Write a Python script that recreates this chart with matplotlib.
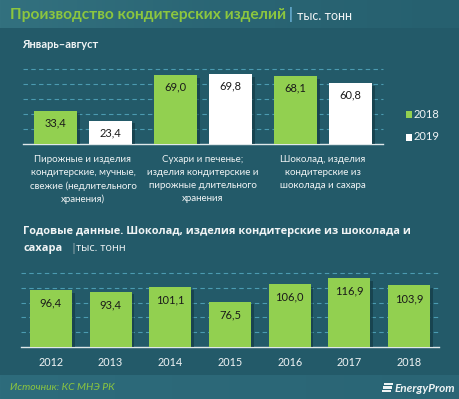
import matplotlib
matplotlib.use("Agg")
import matplotlib.pyplot as plt
import matplotlib.patheffects as pe
from matplotlib.patches import Rectangle
from matplotlib.colors import LinearSegmentedColormap
import numpy as np

plt.rcParams['font.family'] = ['Lato', 'DejaVu Sans']

# ---- data ----
categories = ["Пирожные и изделия\nкондитерские, мучные,\nсвежие (недлительного\nхранения)",
              "Сухари и печенье;\nизделия кондитерские и\nпирожные длительного\nхранения",
              "Шоколад, изделия\nкондитерские из\nшоколада и сахара"]
series_names = ["2018", "2019"]
values_2018 = [33.4, 69.0, 68.1]
values_2019 = [23.4, 69.8, 60.8]

years = ["2012", "2013", "2014", "2015", "2016", "2017", "2018"]
annual_values = [96.4, 93.4, 101.1, 76.5, 106.0, 116.9, 103.9]

title_main = "Производство кондитерских изделий"
unit = "тыс. тонн"
subtitle_top = "Январь–август"
subtitle_bottom_1 = "Годовые данные. Шоколад, изделия кондитерские из шоколада и"
subtitle_bottom_2 = "сахара"
source = "Источник: КС МНЭ РК"

# ---- style ----
W, H = 459, 399
BG = "#235a69"
GREEN = "#92d050"
WHITE = "#ffffff"
GRID = "#4b9bb1"
TEXT = "#f0f4f5"

fig = plt.figure(figsize=(W / 100, H / 100), dpi=100)
fig.patch.set_facecolor(BG)

def frac_rect(x0, y0, x1, y1):
    return [x0 / W, 1 - y1 / H, (x1 - x0) / W, (y1 - y0) / H]

def px(x, y):
    return x / W, 1 - y / H

grad = np.linspace(0, 1, 256).reshape(1, -1)
hdr = fig.add_axes(frac_rect(0, 0, W, 28))
cm_h = LinearSegmentedColormap.from_list("h", ["#33717f", "#2a6574", "#26606f"])
hdr.imshow(grad, aspect="auto", cmap=cm_h, extent=[0, 1, 0, 1])
hdr.set_axis_off()

ftr = fig.add_axes(frac_rect(0, 375, W, H))
cm_f = LinearSegmentedColormap.from_list("f", ["#2e6c7c", "#2c6878", "#2a6575"])
ftr.imshow(grad, aspect="auto", cmap=cm_f, extent=[0, 1, 0, 1])
ftr.set_axis_off()

# header texts
t = fig.text(*px(10, 15), title_main, color="#8cc63f", fontsize=11.2,
             fontweight="bold", va="center", ha="left",
             family=["Liberation Sans Narrow", "Lato", "DejaVu Sans"])
fig.canvas.draw()
bb = t.get_window_extent()
t2 = fig.text((bb.x1 + 3) / W, 1 - 15 / H, "|", color="#6fb7e0", fontsize=10.5,
              fontweight="bold", va="center", ha="left")
fig.canvas.draw()
bb2 = t2.get_window_extent()
fig.text((bb2.x1 + 4) / W, 1 - 15.5 / H, unit, color=TEXT, fontsize=9,
         va="center", ha="left")

fig.text(*px(22, 44), subtitle_top, color=TEXT, fontsize=8, fontweight="bold",
         va="center", ha="left")

shadow = [pe.SimplePatchShadow(offset=(2, -2), shadow_rgbFace="#113640", alpha=0.6), pe.Normal()]

# ---- top chart ----
ax1 = fig.add_axes(frac_rect(23, 69, 383, 144))
ax1.set_facecolor("none")
x = np.arange(len(categories))
bw = 43 / 120
off = 27.5 / 120
b1 = ax1.bar(x - off, values_2018, bw, color=GREEN, label=series_names[0], zorder=3)
b2 = ax1.bar(x + off, values_2019, bw, color=WHITE, label=series_names[1], zorder=3)
for bars in (b1, b2):
    for r in bars:
        r.set_path_effects(shadow)
ax1.set_xlim(-0.5, 2.5)
ax1.set_ylim(0, 75)
for yv in [15, 30, 45, 60, 75]:
    ax1.axhline(yv, color=GRID, lw=0.8, ls=(0, (4, 3)), zorder=1, clip_on=False)
for s in ["top", "right", "left"]:
    ax1.spines[s].set_visible(False)
ax1.spines["bottom"].set_color("#dfe8ea")
ax1.spines["bottom"].set_linewidth(1)
ax1.set_yticks([])
ax1.set_xticks(x)
ax1.set_xticklabels(categories, color=TEXT, fontsize=7.0, linespacing=1.55)
ax1.tick_params(axis="x", length=0, pad=8)
for bars, vals in ((b1, values_2018), (b2, values_2019)):
    for r, v in zip(bars, vals):
        ax1.annotate(f"{v:.1f}".replace(".", ","),
                     (r.get_x() + r.get_width() / 2, v),
                     xytext=(0, -12), textcoords="offset pixels",
                     ha="center", va="center", fontsize=8, color="#1a1a1a", zorder=4)

# legend
for i, (name, col) in enumerate(zip(series_names, [GREEN, WHITE])):
    yy = 114 + i * 23
    fig.patches.append(Rectangle((406 / W, 1 - (yy + 3.5) / H), 6 / W, 6.5 / H,
                                 transform=fig.transFigure, facecolor=col,
                                 edgecolor="none"))
    fig.text(*px(414, yy), name, color=TEXT, fontsize=8, va="center", ha="left")

# ---- second subtitle ----
SUBF = ["Open Sans", "Lato", "DejaVu Sans"]
s1 = fig.text(*px(23, 234), subtitle_bottom_1, color=TEXT, fontsize=8,
              fontweight="bold", va="baseline", ha="left", family=SUBF)
fig.canvas.draw()
w1 = s1.get_window_extent().width
target = 386
fs = min(8.6, 8 * target / w1)
s1.set_fontsize(fs)

s2 = fig.text(*px(23, 251), subtitle_bottom_2, color=TEXT, fontsize=fs,
              fontweight="bold", va="baseline", ha="left", family=SUBF)
fig.canvas.draw()
bb3 = s2.get_window_extent()
fig.text((bb3.x1 + 8) / W, 1 - 251 / H, "|", color="#a9b8bd", fontsize=8,
         va="baseline", ha="left", family=SUBF)
fig.text((bb3.x1 + 14) / W, 1 - 251 / H, unit, color=TEXT, fontsize=7.8,
         va="baseline", ha="left", family=SUBF)

# ---- bottom chart ----
ax2 = fig.add_axes(frac_rect(21, 273, 439, 347))
ax2.set_facecolor("none")
xs = np.arange(len(years))
b3 = ax2.bar(xs, annual_values, 42 / 59.7, color=GREEN, zorder=3)
for r in b3:
    r.set_path_effects(shadow)
ax2.set_xlim(-0.5, 6.5)
ax2.set_ylim(0, 125)
for yv in [25, 50, 75, 100, 125]:
    ax2.axhline(yv, color=GRID, lw=0.8, ls=(0, (4, 3)), zorder=1, clip_on=False)
for s in ["top", "right", "left"]:
    ax2.spines[s].set_visible(False)
ax2.spines["bottom"].set_color("#dfe8ea")
ax2.spines["bottom"].set_linewidth(1)
ax2.set_yticks([])
ax2.set_xticks(xs)
ax2.set_xticklabels(years, color=TEXT, fontsize=7.8)
ax2.tick_params(axis="x", length=0, pad=7)
for r, v in zip(b3, annual_values):
    ax2.annotate(f"{v:.1f}".replace(".", ","),
                 (r.get_x() + r.get_width() / 2, v),
                 xytext=(0, -13), textcoords="offset pixels",
                 ha="center", va="center", fontsize=8, color="#1a1a1a", zorder=4)

# ---- footer ----
fig.text(*px(10, 388), source, color="#8cc63f", fontsize=7.5, style="italic",
         va="center", ha="left")
fig.text(*px(455, 388), "EnergyProm", color="#eef3f4", fontsize=8.5, style="italic",
         fontweight="bold", va="center", ha="right")
for k in range(3):
    fig.patches.append(Rectangle(((382 + (2 - k) * 0.8) / W, 1 - (383 + k * 3.5 + 2) / H),
                                 9 / W, 2.2 / H, transform=fig.transFigure,
                                 facecolor="#eef3f4", edgecolor="none"))

fig.savefig("out.png", dpi=100, facecolor=BG)
